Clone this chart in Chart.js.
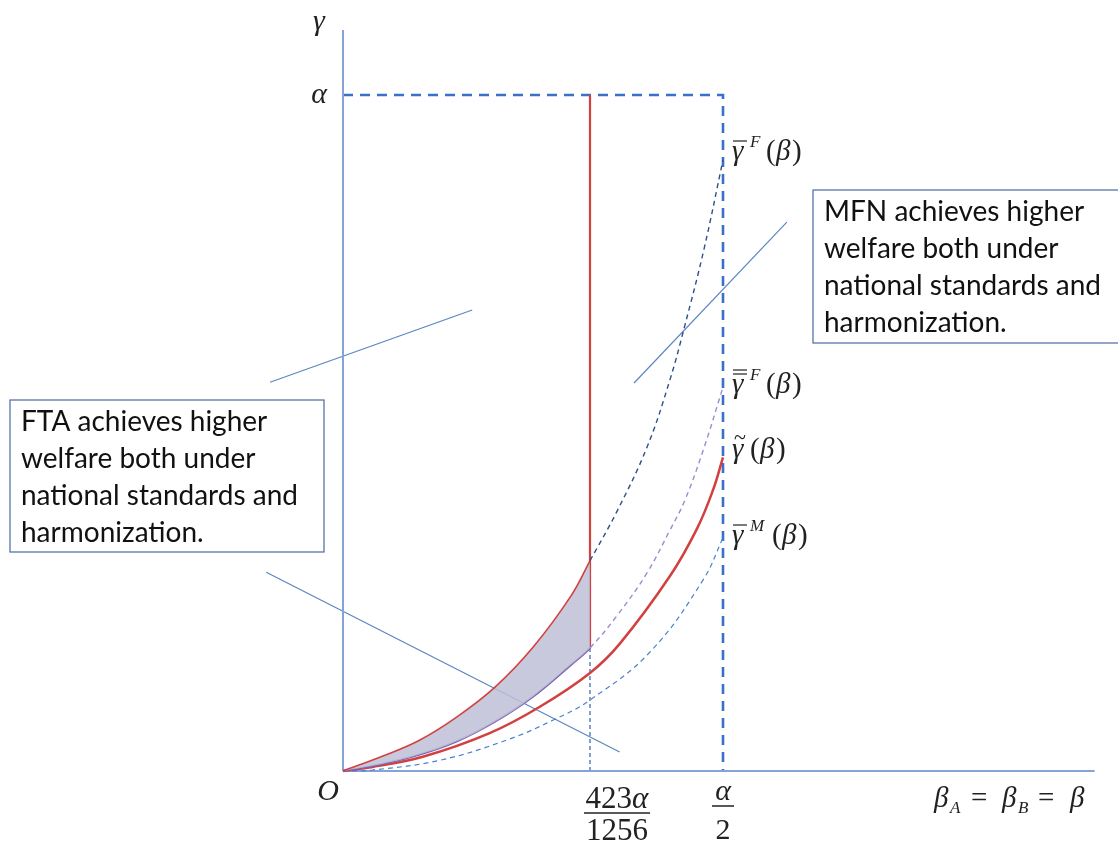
<!DOCTYPE html>
<html>
<head>
<meta charset="utf-8">
<script src="https://cdn.jsdelivr.net/npm/chart.js"></script>
<style>
  body { margin: 0; background: #fff; }
  canvas { display: block; }
</style>
</head>
<body>
<canvas id="diagram" width="1118" height="841"></canvas>
<script>
// beta and gamma both measured as a share of alpha
const cutoff = 0.325;   // 423α/1256 as placed in the picture

const fX      = [0, 0.05, 0.1, 0.15, 0.2, 0.25, 0.3, 0.325, 0.36, 0.4, 0.43, 0.45, 0.475, 0.5];
const gammaF  = [0, 0.021, 0.045, 0.080, 0.124, 0.183, 0.259, 0.311, 0.383, 0.479, 0.578, 0.66, 0.772, 0.904];
const gammaFF = [0, 0.010, 0.024, 0.044, 0.073, 0.110, 0.157, 0.182, 0.229, 0.293, 0.356, 0.401, 0.478, 0.568];

const tildeX = [0, 0.039, 0.105, 0.193, 0.259, 0.325, 0.364, 0.43, 0.466, 0.487, 0.5];
const tildeY = [0, 0.006, 0.021, 0.056, 0.095, 0.145, 0.188, 0.288, 0.359, 0.416, 0.464];

const gammaMX = [0, 0.039, 0.128, 0.216, 0.276, 0.325, 0.404, 0.474, 0.5];
const gammaMY = [0, 0.0015, 0.016, 0.046, 0.075, 0.105, 0.176, 0.283, 0.345];

const leaderLines = [
  [[-0.096, 0.575], [0.170, 0.682]],
  [[0.383, 0.574], [0.584, 0.812]],
  [[-0.101, 0.294], [0.364, 0.028]]
];

const ftaText = ['FTA achieves higher', 'welfare both under', 'national standards and', 'harmonization.'];
const mfnText = ['MFN achieves higher', 'welfare both under', 'national standards and', 'harmonization.'];

const RED = '#d0413f';
const SHADE = 'rgba(190,192,215,0.85)';

function pts(xs, ys) {
  return xs.map((x, i) => ({ x: x, y: ys[i] }));
}

function seg(points, color, width, dash) {
  return {
    data: points.map(p => ({ x: p[0], y: p[1] })),
    borderColor: color,
    borderWidth: width,
    borderDash: dash || [],
    pointRadius: 0,
    showLine: true,
    fill: false,
    tension: 0
  };
}

function curve(data, color, width, dash) {
  return {
    data: data,
    borderColor: color,
    borderWidth: width,
    borderDash: dash || [],
    pointRadius: 0,
    showLine: true,
    fill: false,
    tension: 0.4
  };
}

const inside = c => c.p0.parsed.x < cutoff - 1e-9;

const datasets = [];
// gamma-bar-F: solid red up to the cutoff, dashed dark blue after, shaded band below it
let fBar = curve(pts(fX, gammaF), RED, 1.6);
fBar.fill = '+1';
fBar.backgroundColor = SHADE;
fBar.segment = {
  borderColor: c => inside(c) ? RED : '#2c4f8f',
  borderDash: c => inside(c) ? [] : [5, 4],
  borderWidth: c => inside(c) ? 1.6 : 1.4,
  backgroundColor: c => inside(c) ? SHADE : 'rgba(0,0,0,0)'
};
datasets.push(fBar);
// double-bar gamma-F: purple solid then light purple dashed
let ffBar = curve(pts(fX, gammaFF), '#7b5fb0', 2);
ffBar.segment = {
  borderColor: c => inside(c) ? '#7b5fb0' : '#a08ad0',
  borderDash: c => inside(c) ? [] : [5, 4],
  borderWidth: c => inside(c) ? 2 : 1.4
};
datasets.push(ffBar);
datasets.push(curve(pts(tildeX, tildeY), RED, 2.5));
datasets.push(curve(pts(gammaMX, gammaMY), '#4a82cc', 1.2, [5, 4]));
// axes
datasets.push(seg([[0, 0], [0, 1.096]], '#86a3d8', 2));
datasets.push(seg([[0, 0], [0.989, 0]], '#86a3d8', 2));
// red boundary and thin dashed drop line
const ffCut = gammaFF[fX.indexOf(cutoff)];
datasets.push(seg([[cutoff, ffCut], [cutoff, 1]], RED, 2.2));
datasets.push(seg([[cutoff, 0], [cutoff, ffCut]], '#2e62b8', 1.2, [4, 3]));
// dashed box at alpha and alpha/2
datasets.push(seg([[0, 1], [0.5, 1], [0.5, 0]], '#3a70c6', 2.6, [10, 7]));
leaderLines.forEach(l => datasets.push(seg(l, '#5a86c2', 1.2)));

function textBox(ctx, x, y, w, h, lines) {
  ctx.save();
  ctx.fillStyle = '#fff';
  ctx.fillRect(x, y, w, h);
  ctx.strokeStyle = '#4a6aa0';
  ctx.lineWidth = 1.2;
  ctx.strokeRect(x, y, w, h);
  ctx.fillStyle = '#111';
  ctx.font = '28px Lato';
  ctx.textBaseline = 'alphabetic';
  lines.forEach((s, i) => ctx.fillText(s, x + 11, y + 31 + i * 37));
  ctx.restore();
}

function gammaLabel(ctx, x, y, bars, sup, tilde) {
  ctx.save();
  ctx.fillStyle = '#222';
  ctx.strokeStyle = '#222';
  ctx.font = 'italic 29px "Liberation Serif"';
  ctx.fillText('γ', x, y);
  ctx.lineWidth = 1.2;
  for (let i = 0; i < bars; i++) {
    ctx.beginPath();
    ctx.moveTo(x + 1, y - 19 - i * 4);
    ctx.lineTo(x + 15, y - 19 - i * 4);
    ctx.stroke();
  }
  if (tilde) {
    ctx.font = '22px "Liberation Serif"';
    ctx.fillText('~', x + 2, y - 14);
  }
  let cx = x + 16;
  if (sup) {
    ctx.font = 'italic 17px "Liberation Serif"';
    ctx.fillText(sup, cx + 2, y - 13);
    cx += sup === 'M' ? 22 : 16;
  }
  ctx.font = '29px "Liberation Serif"';
  ctx.fillText('(', cx + 2, y);
  ctx.font = 'italic 29px "Liberation Serif"';
  ctx.fillText('β', cx + 12, y);
  ctx.font = '29px "Liberation Serif"';
  ctx.fillText(')', cx + 28, y);
  ctx.restore();
}

const annotations = {
  id: 'annotations',
  afterDatasetsDraw(chart) {
    const ctx = chart.ctx;
    const sx = chart.scales.x, sy = chart.scales.y;
    textBox(ctx, 10, 400, 314, 152, ftaText);
    textBox(ctx, 813, 190, 310, 153, mfnText);

    ctx.save();
    ctx.fillStyle = '#222';
    ctx.strokeStyle = '#222';
    ctx.font = 'italic 30px "Liberation Serif"';
    ctx.textAlign = 'center';
    const ox = sx.getPixelForValue(0), oy = sy.getPixelForValue(0);
    ctx.fillText('γ', ox - 24, 30);
    ctx.fillText('α', ox - 24, sy.getPixelForValue(1) + 8);
    ctx.fillText('O', ox - 15, oy + 29);

    // 423α / 1256
    const cxp = sx.getPixelForValue(cutoff) + 27;
    ctx.textAlign = 'left';
    ctx.font = '31px "Liberation Serif"';
    const wNum = ctx.measureText('423').width;
    ctx.font = 'italic 31px "Liberation Serif"';
    const wA = ctx.measureText('α').width;
    const left = cxp - (wNum + wA) / 2;
    ctx.font = '31px "Liberation Serif"';
    ctx.fillText('423', left, oy + 37);
    ctx.font = 'italic 31px "Liberation Serif"';
    ctx.fillText('α', left + wNum, oy + 37);
    ctx.lineWidth = 1.5;
    ctx.beginPath();
    ctx.moveTo(cxp - 33, oy + 42);
    ctx.lineTo(cxp + 33, oy + 42);
    ctx.stroke();
    ctx.font = '31px "Liberation Serif"';
    ctx.textAlign = 'center';
    ctx.fillText('1256', cxp, oy + 69);

    // α / 2
    const hx = sx.getPixelForValue(0.5);
    ctx.font = 'italic 30px "Liberation Serif"';
    ctx.fillText('α', hx, oy + 29);
    ctx.beginPath();
    ctx.moveTo(hx - 11, oy + 35);
    ctx.lineTo(hx + 11, oy + 35);
    ctx.stroke();
    ctx.font = '30px "Liberation Serif"';
    ctx.fillText('2', hx, oy + 68);

    // beta_A = beta_B = beta
    ctx.textAlign = 'left';
    const by = oy + 36;
    ctx.font = 'italic 29px "Liberation Serif"';
    ctx.fillText('β', 934, by);
    ctx.font = 'italic 17px "Liberation Serif"';
    ctx.fillText('A', 950, by + 6);
    ctx.font = '29px "Liberation Serif"';
    ctx.fillText('=', 971, by);
    ctx.font = 'italic 29px "Liberation Serif"';
    ctx.fillText('β', 1002, by);
    ctx.font = 'italic 17px "Liberation Serif"';
    ctx.fillText('B', 1018, by + 6);
    ctx.font = '29px "Liberation Serif"';
    ctx.fillText('=', 1038, by);
    ctx.font = 'italic 29px "Liberation Serif"';
    ctx.fillText('β', 1070, by);
    ctx.restore();

    gammaLabel(ctx, 732, 160, 1, 'F');
    gammaLabel(ctx, 732, 393, 2, 'F');
    gammaLabel(ctx, 732, 458, 0, null, true);
    gammaLabel(ctx, 732, 544, 1, 'M');
  }
};

new Chart(document.getElementById('diagram').getContext('2d'), {
  type: 'scatter',
  data: { datasets: datasets },
  options: {
    responsive: false,
    animation: false,
    layout: { padding: 0 },
    plugins: {
      legend: { display: false },
      tooltip: { enabled: false },
      filler: { propagate: false }
    },
    scales: {
      x: { type: 'linear', display: false, min: -343 / 760, max: 775 / 760 },
      y: { type: 'linear', display: false, min: -70 / 676, max: 771 / 676 }
    }
  },
  plugins: [annotations]
});
</script>
</body>
</html>
